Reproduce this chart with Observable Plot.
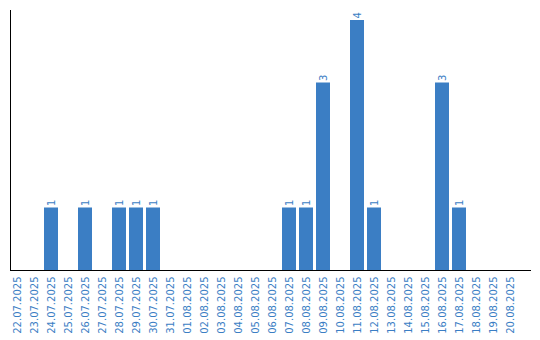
<!DOCTYPE html>
<html>
<head>
<meta charset="utf-8">
<script src="https://cdn.jsdelivr.net/npm/d3@7"></script>
<script src="https://cdn.jsdelivr.net/npm/@observablehq/plot@0.6"></script>
<style>
  html, body { margin: 0; padding: 0; background: #fff; }
  #chart { width: 540px; height: 340px; }
</style>
</head>
<body>
<div id="chart"></div>
<script>
const dates = [
  "22.07.2025","23.07.2025","24.07.2025","25.07.2025","26.07.2025","27.07.2025",
  "28.07.2025","29.07.2025","30.07.2025","31.07.2025","01.08.2025","02.08.2025",
  "03.08.2025","04.08.2025","05.08.2025","06.08.2025","07.08.2025","08.08.2025",
  "09.08.2025","10.08.2025","11.08.2025","12.08.2025","13.08.2025","14.08.2025",
  "15.08.2025","16.08.2025","17.08.2025","18.08.2025","19.08.2025","20.08.2025"
];
const counts = [
  0,0,1,0,1,0,
  1,1,1,0,0,0,
  0,0,0,0,1,1,
  3,0,4,1,0,0,
  0,3,1,0,0,0
];

const data = dates.map((d, i) => ({date: d, count: counts[i]}));
const nonZero = data.filter(d => d.count > 0);
const blue = "#3b7ec4";

const chart = Plot.plot({
  width: 540,
  height: 340,
  marginLeft: 10,
  marginRight: 10,
  marginTop: 10,
  marginBottom: 70,
  style: {fontFamily: "DejaVu Sans", fontSize: "10px", background: "#fff"},
  x: {domain: dates, paddingInner: 0.176, paddingOuter: 0.382, align: 0, label: null},
  y: {domain: [0, 4.16], axis: null},
  marks: [
    Plot.barY(nonZero, {x: "date", y: "count", fill: blue}),
    Plot.text(nonZero, {x: "date", y: "count", text: d => String(d.count), rotate: -90, textAnchor: "start", dy: -2, fill: blue, fontSize: 10}),
    Plot.axisX({tickRotate: -90, tickSize: 0, tickPadding: 6, color: blue, fontSize: 10, label: null}),
    Plot.frame({anchor: "left", stroke: "#000"}),
    Plot.frame({anchor: "bottom", stroke: "#000"})
  ]
});
document.getElementById("chart").appendChild(chart);
</script>
</body>
</html>
